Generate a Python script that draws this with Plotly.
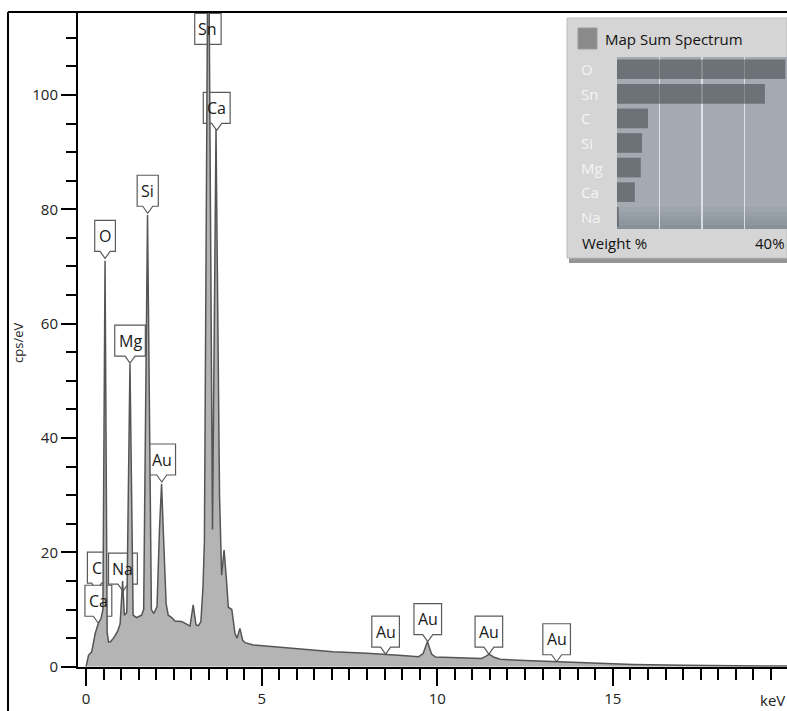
import plotly.graph_objects as go

W, H = 787, 711
OFF = 0

# ---------------- data ----------------
energy_kev = [0.00, 0.04, 0.07, 0.16, 0.26, 0.35, 0.43, 0.48, 0.54, 0.60, 0.64, 0.70, 0.78, 0.90,
              0.97, 1.04, 1.09, 1.16, 1.25, 1.34, 1.44, 1.58, 1.64, 1.75, 1.86, 1.93, 2.02, 2.09,
              2.15, 2.21, 2.28, 2.34, 2.44, 2.53, 2.72, 2.85, 2.96, 3.05, 3.13, 3.20, 3.27, 3.33,
              3.37, 3.48, 3.60, 3.70, 3.80, 3.86, 3.93, 4.00, 4.05, 4.15, 4.24, 4.30, 4.38, 4.46,
              4.53, 4.76, 5.52, 6.10, 7.03, 8.00, 8.51, 9.00, 9.47, 9.60, 9.72, 9.84, 9.95, 10.50,
              11.03, 11.26, 11.38, 11.48, 11.60, 11.79, 12.50, 13.40, 14.50, 15.58, 17.00, 18.50, 20.00]
counts_cps = [0.0, 1.5, 2.0, 2.6, 5.8, 7.6, 8.5, 10.0, 71.0, 6.0, 4.3, 4.4, 5.0, 6.2,
              7.5, 15.0, 9.0, 9.5, 53.0, 9.0, 8.6, 9.0, 10.0, 79.0, 10.0, 9.3, 10.5, 24.0,
              32.0, 22.0, 11.0, 9.0, 8.6, 8.0, 7.9, 7.5, 7.1, 10.8, 7.3, 7.2, 7.9, 14.0,
              22.0, 140.0, 24.0, 94.0, 30.0, 16.0, 20.4, 15.0, 10.4, 10.0, 5.8, 5.0, 6.7, 4.6,
              4.2, 3.8, 3.4, 3.2, 2.6, 2.35, 2.2, 1.95, 1.75, 2.3, 4.4, 2.2, 1.7, 1.55,
              1.4, 1.45, 1.8, 2.2, 1.7, 1.3, 1.1, 0.87, 0.6, 0.4, 0.25, 0.15, 0.1]

label_text = ["Sn", "Ca", "Si", "O", "Mg", "Au", "C", "Na", "Ca", "Au", "Au", "Au", "Au"]
label_kev = [3.47, 3.72, 1.756, 0.541, 1.252, 2.155, 0.30, 1.05, 0.35, 8.53, 9.73, 11.47, 13.40]
label_cps = [107.6, 93.8, 79.3, 71.4, 53.1, 32.3, 13.4, 13.2, 7.6, 2.2, 4.4, 2.2, 0.87]

elements = ["O", "Sn", "C", "Si", "Mg", "Ca", "Na"]
weight_pct = [39.6, 34.8, 7.3, 5.9, 5.6, 4.2, 0.4]

x_range = [-0.23, 19.96]
y_range = [0, 114.5]


# ---------------- helpers (screen pixel -> paper) ----------------
def px_x(p):
    return (p - OFF) / W


def px_y(p):
    return (H - (p - OFF)) / H


CHAR_EM = {"S": .55, "n": .61, "C": .63, "a": .56, "i": .26, "O": .78, "M": .89,
           "g": .55, "A": .63, "u": .61, "N": .76}
FS = 16

fig = go.Figure()

# spectrum
fig.add_trace(go.Scatter(
    x=energy_kev, y=counts_cps, mode="lines", fill="tozeroy",
    fillcolor="#b4b4b4", line=dict(color="#555555", width=1.5),
    hoverinfo="skip", xaxis="x", yaxis="y"))

# inset bar chart
fig.add_trace(go.Bar(
    y=elements, x=weight_pct, orientation="h", width=0.8,
    marker=dict(color="rgba(60,63,67,0.52)", line=dict(width=0)),
    xaxis="x2", yaxis="y2", hoverinfo="skip"))
fig.add_trace(go.Scatter(
    x=[-0.45] * len(elements), y=elements, mode="markers", cliponaxis=False,
    marker=dict(symbol="line-ns", size=13, line=dict(color="rgba(255,255,255,0.9)", width=1.5)),
    xaxis="x2", yaxis="y2", hoverinfo="skip"))

shapes = []
annotations = []

# panel shadow + panel
shapes.append(dict(type="rect", xref="paper", yref="paper", layer="below",
                   x0=px_x(569), x1=1.0, y0=px_y(263), y1=px_y(22),
                   fillcolor="rgba(60,60,60,0.55)", line=dict(width=0)))
shapes.append(dict(type="rect", xref="paper", yref="paper", layer="below",
                   x0=px_x(567), x1=1.0, y0=px_y(258), y1=px_y(18),
                   fillcolor="#d5d5d5", line=dict(color="#bdbdbd", width=1)))
# bar area background with darker bottom band
shapes.append(dict(type="rect", xref="x2 domain", yref="y2 domain", layer="below",
                   x0=0, x1=1, y0=0, y1=1, fillcolor="#a3aab1", line=dict(width=0)))
band_cols = ["#9ea5ad", "#99a0a8", "#939ba3", "#8d959e", "#88909a"]
nb = len(band_cols)
for i, c in enumerate(band_cols):
    top = 22 - i * 22 / nb
    bot = 22 - (i + 1) * 22 / nb
    shapes.append(dict(type="rect", xref="x2 domain", yref="y2 domain", layer="below",
                       x0=0, x1=1, y0=bot / 172, y1=top / 172, fillcolor=c, line=dict(width=0)))
# legend swatch
shapes.append(dict(type="rect", xref="paper", yref="paper", layer="below",
                   x0=px_x(578), x1=px_x(597), y0=px_y(49), y1=px_y(28),
                   fillcolor="#8a8a8a", line=dict(color="#9a9a9a", width=1)))

# outer frame (top and left)
shapes.append(dict(type="line", xref="paper", yref="paper", layer="above",
                   x0=px_x(8), x1=1.0, y0=px_y(12), y1=px_y(12),
                   line=dict(color="black", width=2)))
shapes.append(dict(type="line", xref="paper", yref="paper", layer="above",
                   x0=px_x(8), x1=px_x(8), y0=0, y1=px_y(12),
                   line=dict(color="black", width=2)))

# peak label bubbles
BH, NH, NW = 31, 7, 5
for t, xk, yc in zip(label_text, label_kev, label_cps):
    w = sum(CHAR_EM.get(ch, .6) for ch in t) * 15 + 9
    hw = w / 2
    if t == "Sn":
        path = f"M{-hw},{NH} L{-hw},{NH + BH} L{hw},{NH + BH} L{hw},{NH} Z"
    else:
        path = (f"M0,0 L{-NW},{NH} L{-hw},{NH} L{-hw},{NH + BH} L{hw},{NH + BH} "
                f"L{hw},{NH} L{NW},{NH} Z")
    shapes.append(dict(type="path", xref="x", yref="y", xsizemode="pixel", ysizemode="pixel",
                       xanchor=xk, yanchor=yc, path=path, layer="below",
                       fillcolor="rgba(255,255,255,0.92)", line=dict(color="#5a5a5a", width=1.2)))
    annotations.append(dict(x=xk, y=yc, xref="x", yref="y", text=t, showarrow=False,
                            yshift=NH + BH / 2, yanchor="middle", xanchor="center",
                            font=dict(size=FS, color="#1a1a1a")))

# axis titles
annotations.append(dict(x=px_x(18), y=px_y(343), xref="paper", yref="paper", text="cps/eV",
                        textangle=-90, showarrow=False, font=dict(size=13, color="#222222"),
                        xanchor="center", yanchor="middle"))
annotations.append(dict(x=1.0, y=px_y(700), xref="paper", yref="paper", text="keV",
                        showarrow=False, font=dict(size=15, color="#222222"),
                        xanchor="right", yanchor="middle"))

# inset texts
annotations.append(dict(x=px_x(603), y=px_y(39), xref="paper", yref="paper",
                        text="Map Sum Spectrum", showarrow=False, xanchor="left",
                        yanchor="middle", font=dict(size=15, color="#111111")))
annotations.append(dict(x=px_x(580), y=px_y(243), xref="paper", yref="paper",
                        text="Weight %", showarrow=False, xanchor="left",
                        yanchor="middle", font=dict(size=15, color="#111111")))
annotations.append(dict(x=1.0, y=px_y(243), xref="paper", yref="paper",
                        text="40%", showarrow=False, xanchor="right",
                        yanchor="middle", font=dict(size=15, color="#111111")))
for el in elements:
    annotations.append(dict(x=px_x(579), y=el, xref="paper", yref="y2", text=el,
                            showarrow=False, xanchor="left", yanchor="middle",
                            font=dict(size=15, color="#f4f4f4")))

fig.update_layout(
    template="none",
    width=W, height=H, autosize=False,
    margin=dict(l=0, r=0, t=0, b=0, pad=0, autoexpand=False),
    paper_bgcolor="white", plot_bgcolor="rgba(0,0,0,0)",
    showlegend=False,
    font=dict(family="Open Sans, sans-serif", size=15, color="#222222"),
    xaxis=dict(domain=[px_x(78), 1.0], range=x_range, anchor="y", automargin=False,
               tickmode="linear", tick0=0, dtick=5,
               ticks="outside", ticklen=17, tickwidth=2, tickcolor="black",
               showline=True, linecolor="black", linewidth=2,
               showgrid=False, zeroline=False,
               minor=dict(tickmode="linear", tick0=0, dtick=0.5, ticks="outside",
                          ticklen=11, tickwidth=2, tickcolor="black", showgrid=False),
               tickfont=dict(size=15, color="#222222")),
    yaxis=dict(domain=[px_y(666.7), px_y(12)], range=y_range, anchor="x", automargin=False,
               tickmode="linear", tick0=0, dtick=20,
               ticks="outside", ticklen=15, tickwidth=2, tickcolor="black",
               showline=True, linecolor="black", linewidth=2,
               showgrid=False, zeroline=False,
               minor=dict(tickmode="linear", tick0=0, dtick=5, ticks="outside",
                          ticklen=10, tickwidth=2, tickcolor="black", showgrid=False),
               tickfont=dict(size=15, color="#222222")),
    xaxis2=dict(domain=[px_x(617), 1.0], range=[0, 40], anchor="y2", automargin=False,
                tickmode="array", tickvals=[10, 20, 30], showticklabels=False,
                showgrid=True, gridcolor="rgba(240,244,248,0.75)", gridwidth=1.5,
                zeroline=False, showline=False, ticks=""),
    yaxis2=dict(domain=[px_y(229), px_y(57)], anchor="x2", type="category", automargin=False,
                categoryorder="array", categoryarray=elements,
                range=[len(elements) - 0.5, -0.5],
                showticklabels=False, showgrid=False, zeroline=False, showline=False, ticks=""),
    shapes=shapes,
    annotations=annotations,
    bargap=0.2,
)

fig.write_html(
    "out.html",
    config={"displayModeBar": False, "staticPlot": True},
    post_script="document.body.style.margin='0';document.body.style.overflow='hidden';",
)
